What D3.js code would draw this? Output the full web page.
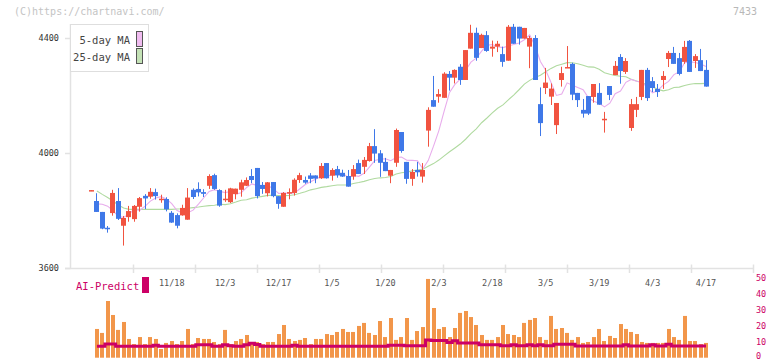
<!DOCTYPE html>
<html><head><meta charset="utf-8">
<script src="https://cdn.jsdelivr.net/npm/d3@7/dist/d3.min.js"></script>
<style>body{margin:0;background:#fff;}svg{display:block;font-family:"DejaVu Sans Mono",monospace;}</style>
</head><body><svg id="c" width="772" height="361"></svg>
<script>
// ---- data ----
const openP  = [3869,3833,3795,3740,3791,3833,3747,3777,3770,3813,3851,3848,3864,3839,3840,3792,3784,3783,3768,3872,3875,3864,3886,3923,3871,3838,3829,3857,3872,3886,3920,3948,3889,3860,3899,3850,3813,3860,3861,3906,3906,3922,3922,3912,3965,3921,3944,3931,3920,3918,3965,3952,3972,4024,3999,3969,3921,3966,4073,3969,3910,3941,3918,4078,4184,4196,4192,4275,4262,4300,4254,4363,4418,4365,4410,4363,4370,4344,4321,4439,4439,4398,4370,4400,4170,4226,4196,4097,4254,4296,4310,4209,4150,4198,4195,4209,4117,4233,4271,4334,4282,4087,4150,4195,4289,4250,4223,4254,4327,4348,4330,4317,4390,4320,4323,4289];
const highP  = [3871,3860,3795,3746,3872,3878,3781,3816,3819,3847,3857,3878,3876,3855,3846,3798,3790,3820,3878,3877,3898,3874,3926,3928,3874,3872,3879,3876,3907,3915,3944,3948,3899,3899,3899,3850,3864,3877,3912,3931,3918,3930,3922,3965,3965,3947,3955,3942,3941,3958,3977,3986,4035,4083,4010,3983,3941,4085,4073,3969,3944,3969,3965,4159,4268,4222,4281,4285,4291,4309,4358,4446,4436,4415,4424,4391,4390,4370,4445,4449,4439,4435,4407,4410,4228,4296,4242,4174,4300,4372,4314,4209,4188,4198,4240,4243,4143,4233,4320,4344,4330,4188,4195,4289,4296,4264,4240,4285,4355,4369,4348,4390,4393,4344,4362,4323];
const lowP   = [3869,3795,3735,3723,3782,3767,3678,3761,3761,3796,3805,3841,3838,3827,3797,3757,3738,3782,3768,3840,3849,3847,3875,3872,3813,3830,3826,3839,3848,3885,3895,3842,3858,3849,3846,3806,3813,3839,3852,3896,3893,3895,3895,3910,3911,3904,3914,3917,3883,3907,3927,3927,3970,3966,3917,3937,3895,3952,4001,3893,3886,3918,3897,4022,4161,4175,4192,4217,4242,4237,4254,4363,4321,4365,4352,4335,4351,4300,4321,4380,4377,4398,4295,4254,4059,4205,4167,4066,4231,4296,4184,4160,4123,4132,4175,4168,4071,4184,4271,4241,4275,4077,4125,4184,4181,4212,4195,4223,4299,4310,4270,4310,4282,4296,4285,4231];
const closeP = [3871,3795,3737,3735,3861,3771,3774,3798,3816,3843,3842,3865,3850,3841,3804,3758,3747,3809,3845,3847,3863,3858,3920,3875,3817,3841,3877,3876,3898,3906,3906,3850,3875,3898,3850,3823,3861,3864,3907,3923,3897,3910,3911,3955,3912,3941,3922,3918,3883,3944,3927,3976,4024,3998,3966,3937,3941,4080,4007,3910,3934,3933,3941,4150,4161,4205,4276,4262,4289,4254,4358,4418,4331,4411,4355,4370,4380,4317,4439,4380,4398,4435,4400,4254,4104,4245,4224,4174,4278,4299,4203,4184,4137,4137,4240,4168,4119,4202,4303,4285,4320,4170,4170,4289,4191,4226,4212,4268,4348,4310,4275,4369,4282,4337,4285,4231];
const volume = [null,18.1,15.6,35.7,26.9,17.5,22.5,11.8,8.6,13.0,8.6,13.0,11.8,5.5,9.3,10.5,8.6,10.5,18.1,8.6,12.4,11.8,11.8,9.9,8.6,17.5,8.6,10.5,11.8,14.3,8.6,9.9,8.6,9.9,9.9,14.9,20.6,11.8,10.5,11.2,12.4,8.6,11.8,11.8,14.9,14.3,16.2,18.1,16.2,16.2,20.0,21.9,15.6,14.3,23.1,13.0,25.0,11.2,13.0,25.0,11.2,16.8,19.3,49.6,31.3,18.1,19.3,13.0,18.7,28.2,29.4,25.6,20.6,14.3,11.2,11.2,13.0,20.6,14.9,14.3,13.0,21.9,23.8,25.0,13.0,11.2,26.3,18.1,18.7,15.6,11.2,13.0,9.3,9.9,13.0,18.1,10.5,13.7,12.4,21.2,18.1,16.2,14.9,9.9,9.3,9.3,9.3,9.3,18.1,13.0,11.2,26.3,10.5,10.5,8.6,9.3];
const aiPredict = [null,7.2,7.2,8.6,8.6,7.2,7.2,7.2,7.2,7.2,7.2,7.2,7.9,7.2,7.2,7.2,7.2,7.2,7.2,7.2,8.1,8.1,8.1,7.2,7.2,8.1,7.6,7.2,7.2,8.1,9.1,8.3,7.2,7.2,7.2,7.2,7.2,7.2,7.9,7.2,7.2,7.2,7.2,7.2,7.2,7.2,7.2,7.2,7.2,7.2,7.2,7.2,7.2,7.2,7.2,7.2,7.9,7.9,7.9,7.6,7.6,7.6,7.6,11.2,10.8,10.8,10.8,9.6,10.6,9.3,9.3,9.3,9.3,8.1,8.1,8.1,8.1,7.6,7.6,8.1,7.6,7.6,8.1,7.6,8.1,7.6,7.6,8.4,8.4,8.4,8.4,7.4,7.4,7.4,7.4,7.4,7.4,7.4,7.4,7.4,8.1,7.4,7.4,7.4,7.4,8.1,7.4,7.4,8.4,7.4,7.4,7.4,7.4,7.4,7.4,7.4];
// moving averages before the full window is available
const ma5Early  = [null,3823,3822,3815];
const ma25Early = [null,3868,3856,3845,3833,3819,3809,3804,3804,3804,3804,3804,3804,3804,3804,3804,3805,3806,3808,3810,3812,3815,3817,3818];
const xTickLabels = ["11/18","12/3","12/17","1/5","1/20","2/3","2/18","3/5","3/19","4/3","4/17"];
const xTickIndex  = [15,25,35,45,55,65,75,85,95,105,115];
const yTicks = [3600,4000,4400];
const volTicks = [0,10,20,30,40,50];

// ---- drawing ----
const svg = d3.select("#c");
const N = closeP.length;
const x = d3.scaleLinear().domain([0, N-1]).range([91.6, 706]);
const y = d3.scaleLinear().domain([3600, 4400]).range([268, 38]);
const yv = d3.scaleLinear().domain([0, 50]).range([357.7, 278.3]);
const grid = d3.scaleLinear().domain([0, 11]).range([70.7, 752.7]);
const RED = "#f15340", BLUE = "#3f78e8", AXIS = "#e2e2e2";

svg.append("rect").attr("width",772).attr("height",361).attr("fill","#fff");

// header
svg.append("text").attr("x",14).attr("y",15).attr("font-size",10).attr("fill","#c4c4c4").text("(C)https://chartnavi.com/");
svg.append("text").attr("x",757).attr("y",15).attr("text-anchor","end").attr("font-size",10).attr("fill","#b8b8b8").text("7433");

// axes
svg.append("line").attr("x1",70.5).attr("x2",70.5).attr("y1",24).attr("y2",268.5).attr("stroke",AXIS).attr("stroke-width",1.5);
svg.append("line").attr("x1",65).attr("x2",753).attr("y1",268.5).attr("y2",268.5).attr("stroke",AXIS).attr("stroke-width",1.5);
svg.selectAll(".gt").data(d3.range(1,12)).join("line")
  .attr("x1",d=>Math.round(grid(d))+0.5).attr("x2",d=>Math.round(grid(d))+0.5)
  .attr("y1",264.5).attr("y2",273).attr("stroke",AXIS).attr("stroke-width",1.5);
svg.selectAll(".yt").data(yTicks).join("line")
  .attr("x1",65).attr("x2",70.5).attr("y1",d=>Math.round(y(d))+0.5).attr("y2",d=>Math.round(y(d))+0.5)
  .attr("stroke",AXIS).attr("stroke-width",1.5);
svg.selectAll(".yl").data(yTicks).join("text")
  .attr("x",59).attr("y",d=>y(d)+3).attr("text-anchor","end").attr("font-size",8.5).attr("fill","#333").text(d=>d);

// moving averages
const ma = (len, early) => closeP.map((c,i)=>{
  if (i >= len-1) return d3.mean(closeP.slice(i-len+1, i+1));
  return early[i] == null ? null : early[i];
});
const ma5 = ma(5, ma5Early), ma25 = ma(25, ma25Early);
const mline = d3.line().defined(d=>d!=null).x((d,i)=>x(i)).y(d=>y(d));
svg.append("path").attr("d",mline(ma25)).attr("fill","none").attr("stroke","#b0daa0").attr("stroke-width",1.1);
svg.append("path").attr("d",mline(ma5)).attr("fill","none").attr("stroke","#e8acec").attr("stroke-width",1.1);

// candles
const idx = d3.range(N);
const col = i => closeP[i] >= openP[i] ? RED : BLUE;
svg.selectAll(".wick").data(idx).join("rect")
  .attr("x",i=>Math.round(x(i)-2.5)+2).attr("width",1)
  .attr("y",i=>y(highP[i])).attr("height",i=>Math.max(1,y(lowP[i])-y(highP[i])))
  .attr("fill",col);
svg.selectAll(".body").data(idx).join("rect")
  .attr("x",i=>Math.round(x(i)-2.5)).attr("width",5)
  .attr("y",i=>y(Math.max(openP[i],closeP[i])))
  .attr("height",i=>Math.max(1.5,Math.abs(y(openP[i])-y(closeP[i]))))
  .attr("fill",col);

// legend
svg.append("rect").attr("x",70.5).attr("y",24.5).attr("width",78).attr("height",47).attr("fill","#fff").attr("stroke","#dedede");
svg.append("text").attr("x",130).attr("y",44).attr("text-anchor","end").attr("font-size",10.5).attr("fill","#444").text("5-day MA");
svg.append("text").attr("x",130).attr("y",61).attr("text-anchor","end").attr("font-size",10.5).attr("fill","#444").text("25-day MA");
svg.append("rect").attr("x",136.5).attr("y",31.5).attr("width",6).attr("height",15).attr("fill","#f0bcf0").attr("stroke","#555");
svg.append("rect").attr("x",136.5).attr("y",48.5).attr("width",6).attr("height",15).attr("fill","#c4e2b6").attr("stroke","#555");

// x labels
svg.selectAll(".xl").data(xTickIndex).join("text")
  .attr("x",d=>x(d)).attr("y",285.5).attr("text-anchor","middle").attr("font-size",8.5).attr("fill","#555")
  .text((d,k)=>xTickLabels[k]);

// volume panel
svg.selectAll(".vb").data(idx.filter(i=>volume[i]!=null)).join("rect")
  .attr("x",i=>Math.round(x(i)-2)).attr("width",4)
  .attr("y",i=>yv(volume[i])).attr("height",i=>yv(0)-yv(volume[i]))
  .attr("fill","#f2964a");
const aline = d3.line().defined(d=>d!=null).curve(d3.curveStep).x((d,i)=>x(i)).y(d=>yv(d));
svg.append("path").attr("d",aline(aiPredict)).attr("fill","none").attr("stroke","#cc0066").attr("stroke-width",3);
svg.selectAll(".vl").data(volTicks).join("text")
  .attr("x",756).attr("y",d=>Math.min(yv(d)+3,358.5)).attr("font-size",8.5).attr("fill","#cc0066").text(d=>d);
svg.append("text").attr("x",76).attr("y",290).attr("font-size",10.5).attr("fill","#cc0066").text("AI-Predict");
svg.append("rect").attr("x",142).attr("y",277).attr("width",7).attr("height",16).attr("fill","#cc0066");
</script></body></html>
